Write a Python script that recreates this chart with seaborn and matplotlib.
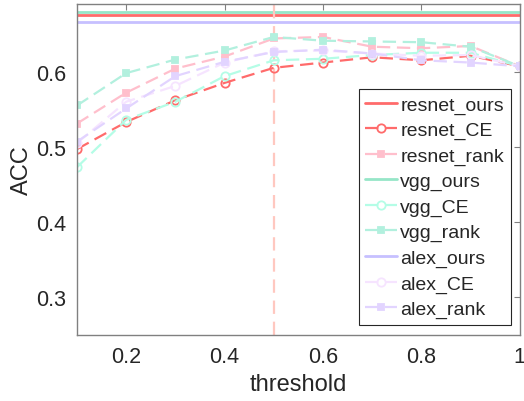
import matplotlib
matplotlib.use("Agg")
import matplotlib.pyplot as plt
import seaborn as sns

# ---- data -----------------------------------------------------------------
thresholds = [0.1, 0.2, 0.3, 0.4, 0.5, 0.6, 0.7, 0.8, 0.9, 1.0]

resnet_ours = 0.675
vgg_ours = 0.679
alex_ours = 0.666

resnet_CE = [0.497, 0.533, 0.562, 0.585, 0.605, 0.612, 0.619, 0.615, 0.621, 0.607]
resnet_rank = [0.531, 0.572, 0.604, 0.620, 0.644, 0.646, 0.633, 0.631, 0.634, 0.607]
vgg_CE = [0.473, 0.536, 0.560, 0.594, 0.615, 0.617, 0.622, 0.625, 0.625, 0.607]
vgg_rank = [0.555, 0.598, 0.616, 0.628, 0.646, 0.641, 0.640, 0.639, 0.633, 0.607]
alex_CE = [0.505, 0.560, 0.581, 0.612, 0.627, 0.628, 0.624, 0.621, 0.622, 0.607]
alex_rank = [0.507, 0.551, 0.594, 0.613, 0.626, 0.629, 0.624, 0.615, 0.612, 0.607]

best_threshold = 0.5

xticks = [0.2, 0.4, 0.6, 0.8, 1.0]
xtick_labels = ["0.2", "0.4", "0.6", "0.8", "1"]
yticks = [0.3, 0.4, 0.5, 0.6]

# ---- style ------------------------------------------------------------------
sns.set_theme(style="white")
plt.rcParams.update({
    "font.family": ["Liberation Sans", "DejaVu Sans"],
    "xtick.direction": "in",
    "ytick.direction": "in",
    "xtick.top": True,
    "ytick.right": True,
    "xtick.major.size": 4,
    "ytick.major.size": 4,
    "xtick.major.width": 0.8,
    "ytick.major.width": 0.8,
    "xtick.color": "#808080",
    "ytick.color": "#808080",
    "xtick.labelcolor": "#262626",
    "ytick.labelcolor": "#262626",
})

COLORS = {
    "resnet_ours": "#ff6b6b",
    "resnet_CE": "#ff6b6b",
    "resnet_rank": "#ffbfcc",
    "vgg_ours": "#96e6c8",
    "vgg_CE": "#b4fde6",
    "vgg_rank": "#b2f0de",
    "alex_ours": "#c6c0ff",
    "alex_CE": "#f6e4ff",
    "alex_rank": "#e2d4ff",
}
DASH = (0, (6, 3))

fig = plt.figure(figsize=(5.24, 4.02), dpi=100)
ax = fig.add_axes([0.147, 0.164, 0.845, 0.824])

handles = {}
for name, val in [("resnet_ours", resnet_ours), ("vgg_ours", vgg_ours),
                  ("alex_ours", alex_ours)]:
    handles[name] = ax.axhline(val, color=COLORS[name], lw=2, label=name)

ax.axvline(best_threshold, color="#ffc8c0", lw=1.6, linestyle=(0, (6, 3.5)))

series = [
    ("resnet_CE", resnet_CE, "o"),
    ("resnet_rank", resnet_rank, "s"),
    ("vgg_CE", vgg_CE, "o"),
    ("vgg_rank", vgg_rank, "s"),
    ("alex_CE", alex_CE, "o"),
    ("alex_rank", alex_rank, "s"),
]
for name, vals, mk in series:
    c = COLORS[name]
    face = "none" if mk == "o" else c
    size = 6 if mk == "o" else 4.5
    sns.lineplot(x=thresholds, y=vals, ax=ax, color=c, lw=1.6,
                 linestyle=DASH, marker=mk, markersize=size,
                 markerfacecolor=face, markeredgecolor=c,
                 markeredgewidth=1.3, label=name)
    handles[name] = ax.lines[-1]

ax.set_xlim(0.1, 1.0)
ax.set_ylim(0.25, 0.69)
ax.set_xticks(xticks)
ax.set_xticklabels(xtick_labels)
ax.set_yticks(yticks)
ax.tick_params(labelsize=15.5, pad=8)
ax.set_xlabel("threshold", fontsize=17, labelpad=4)
ax.set_ylabel("ACC", fontsize=17, labelpad=2)
for sp in ax.spines.values():
    sp.set_color("#808080")
    sp.set_linewidth(1)

order = ["resnet_ours", "resnet_CE", "resnet_rank",
         "vgg_ours", "vgg_CE", "vgg_rank",
         "alex_ours", "alex_CE", "alex_rank"]
leg = ax.legend([handles[k] for k in order], order,
                loc="upper right", bbox_to_anchor=(0.98, 0.743),
                borderaxespad=0, fontsize=14, fancybox=False,
                frameon=True, framealpha=1, edgecolor="#262626",
                handlelength=1.6, handletextpad=0.2,
                labelspacing=0.4, borderpad=0.35)
leg.get_frame().set_linewidth(0.8)

fig.savefig("out.png", dpi=100)
